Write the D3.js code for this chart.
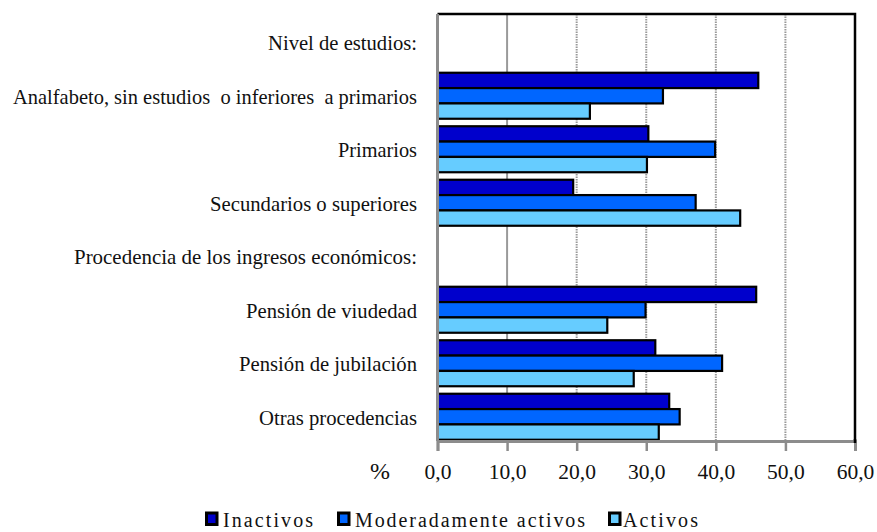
<!DOCTYPE html>
<html>
<head>
<meta charset="utf-8">
<script src="https://cdn.jsdelivr.net/npm/d3@7"></script>
<style>
  html, body { margin: 0; padding: 0; background: #fff; }
  svg { display: block; }
</style>
</head>
<body>
<svg id="chart" width="877" height="532"></svg>
<script>
// Categories (top to bottom); header rows carry no values
const categories = [
  "Nivel de estudios:",
  "Analfabeto, sin estudios  o inferiores  a primarios",
  "Primarios",
  "Secundarios o superiores",
  "Procedencia de los ingresos económicos:",
  "Pensión de viudedad",
  "Pensión de jubilación",
  "Otras procedencias"
];
const seriesNames = ["Inactivos", "Moderadamente activos", "Activos"];
const inactivos = [null, 46.1, 30.3, 19.5, null, 45.8, 31.3, 33.3];
const moderados = [null, 32.4, 39.9, 37.1, null, 29.9, 40.9, 34.8];
const activos   = [null, 21.9, 30.1, 43.5, null, 24.4, 28.2, 31.8];
const tickValues = [0, 10, 20, 30, 40, 50, 60];
const colors = ["#0000CC", "#0066FF", "#66CCFF"];

// rendered label widths (text is set slightly condensed)
const labelWidths = [149, 404, 79, 207, 343, 171, 178, 158];

const seriesValues = [inactivos, moderados, activos];
const svg = d3.select("#chart");
const FONT = '"Liberation Serif"';

const x = d3.scaleLinear().domain([0, 60]).range([437.5, 855]);
const y = d3.scaleBand().domain(categories).range([15.5, 443.5])
  .paddingInner(0.14).paddingOuter(0.07);
const ySub = d3.scaleBand().domain(seriesNames).range([0, y.bandwidth()]);

const plotTop = 14, plotBottom = 441;

// gridlines
svg.append("g").selectAll("line")
  .data(tickValues.filter(v => v > 0 && v < 60))
  .join("line")
  .attr("x1", d => x(d)).attr("x2", d => x(d))
  .attr("y1", plotTop).attr("y2", plotBottom)
  .attr("stroke", "#9a9a9a")
  .attr("stroke-width", 2)
  .attr("stroke-dasharray", d => d === 10 ? null : "1.5,1");

// top and right border
svg.append("path")
  .attr("d", `M${x(0)},${plotTop}H${x(60)}V${plotBottom}`)
  .attr("fill", "none").attr("stroke", "#000").attr("stroke-width", 2.5);

// bars
const rows = [];
categories.forEach((c, i) => {
  seriesNames.forEach((s, j) => {
    const v = seriesValues[j][i];
    if (v != null) rows.push({ c, s, v, j });
  });
});
svg.append("g").selectAll("rect")
  .data(rows)
  .join("rect")
  .attr("x", x(0))
  .attr("y", d => y(d.c) + ySub(d.s))
  .attr("width", d => x(d.v) - x(0))
  .attr("height", ySub.bandwidth())
  .attr("fill", d => colors[d.j])
  .attr("stroke", "#000")
  .attr("stroke-width", 2.2);

// axes lines (gray)
svg.append("line")
  .attr("x1", x(0)).attr("x2", x(0)).attr("y1", plotTop).attr("y2", plotBottom)
  .attr("stroke", "#8c8c8c").attr("stroke-width", 3);
const xAxis = d3.axisBottom(x).tickValues(tickValues).tickSize(10)
  .tickFormat(d => d3.format(".1f")(d).replace(".", ","));
const gx = svg.append("g").attr("transform", `translate(0,${plotBottom})`).call(xAxis);
gx.attr("font-family", null).attr("font-size", null);
gx.select(".domain").attr("stroke", "#8c8c8c").attr("stroke-width", 3);
gx.selectAll(".tick line").attr("stroke", "#8c8c8c").attr("stroke-width", 2.5);
gx.selectAll(".tick text")
  .attr("y", 38).attr("dy", 0)
  .style("font-family", FONT)
  .style("font-size", "21.5px").attr("fill", "#111");
// the right-end tick sits under the black border
svg.append("line")
  .attr("x1", x(60)).attr("x2", x(60)).attr("y1", plotBottom - 2).attr("y2", plotBottom + 2)
  .attr("stroke", "#000").attr("stroke-width", 2.5);

svg.append("text")
  .attr("x", 380).attr("y", 479)
  .attr("text-anchor", "middle")
  .style("font-family", FONT)
  .style("font-size", "24px")
  .attr("fill", "#111")
  .text("%");

// category labels
svg.append("g").selectAll("text")
  .data(categories)
  .join("text")
  .attr("x", (d, i) => 417 - labelWidths[i])
  .attr("y", d => y(d) + y.bandwidth() / 2 + 8)
  .style("font-family", FONT)
  .style("font-size", "22px")
  .attr("fill", "#111")
  .attr("textLength", (d, i) => labelWidths[i])
  .attr("lengthAdjust", "spacingAndGlyphs")
  .style("white-space", "pre")
  .text(d => d);

// legend
const legendItems = [
  { name: seriesNames[0], sx: 205, tx: 223, w: 90 },
  { name: seriesNames[1], sx: 337, tx: 355, w: 230 },
  { name: seriesNames[2], sx: 608, tx: 623, w: 75 }
];
const lg = svg.append("g");
legendItems.forEach((d, i) => {
  lg.append("rect")
    .attr("x", d.sx + 1.5).attr("y", 513)
    .attr("width", 10.5).attr("height", 11.5)
    .attr("fill", colors[i]).attr("stroke", "#000").attr("stroke-width", 3);
  lg.append("text")
    .attr("x", d.tx).attr("y", 526.5)
    .style("font-family", FONT)
    .style("font-size", "20px")
    .attr("fill", "#111")
    .attr("textLength", d.w).attr("lengthAdjust", "spacing")
    .text(d.name);
});
</script>
</body>
</html>
